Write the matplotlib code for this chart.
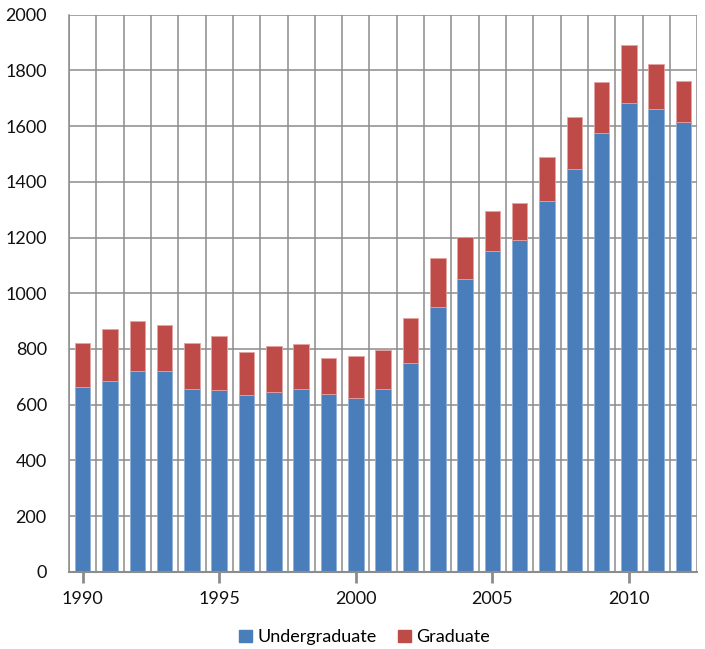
import matplotlib
matplotlib.use("Agg")
import matplotlib.pyplot as plt
import numpy as np
from matplotlib.patches import Patch

years = list(range(1990, 2013))
undergraduate = [664, 684, 721, 719, 655, 654, 633, 645, 655, 637, 623, 657, 748,
                 951, 1050, 1150, 1190, 1330, 1446, 1576, 1682, 1662, 1616]
total = [821, 871, 899, 886, 822, 846, 789, 812, 818, 766, 776, 797, 911,
         1127, 1201, 1295, 1325, 1488, 1632, 1758, 1892, 1824, 1762]
graduate = [t - u for t, u in zip(total, undergraduate)]
yticks = [0, 200, 400, 600, 800, 1000, 1200, 1400, 1600, 1800, 2000]
xlabel_years = [1990, 1995, 2000, 2005, 2010]

plt.rcParams['font.family'] = ['Lato', 'DejaVu Sans']

blue = '#4A7EBB'
red = '#BE4B48'
grid = '#8C8C8C'

fig = plt.figure(figsize=(7.05, 6.49), dpi=100)
ax = fig.add_axes([0.0979, 0.1191, 0.989 - 0.0979, 0.9773 - 0.1191])

x = np.arange(len(years))
w = 0.57
ax.bar(x, undergraduate, width=w, color=blue, edgecolor='#8FB0DA', linewidth=0.6, zorder=3)
ax.bar(x, graduate, width=w, bottom=undergraduate, color=red, edgecolor='#E3A3A1', linewidth=0.6, zorder=3)

ax.set_xlim(-0.5, len(years) - 0.5)
ax.set_ylim(0, 2000)
ax.set_yticks(yticks)
ax.set_yticklabels([str(v) for v in yticks])

# vertical gridlines at category boundaries
for b in np.arange(-0.5, len(years) + 0.5, 1):
    ax.axvline(b, color=grid, linewidth=1.1, zorder=1)
for v in yticks:
    ax.axhline(v, color=grid, linewidth=1.1, zorder=1)

major = [years.index(y) for y in xlabel_years]
ax.set_xticks(major)
ax.set_xticklabels([str(y) for y in xlabel_years])

for s in ax.spines.values():
    s.set_visible(False)
ax.spines['bottom'].set_visible(True)
ax.spines['bottom'].set_color(grid)
ax.spines['bottom'].set_linewidth(1.5)
ax.spines['bottom'].set_zorder(4)
ax.spines['left'].set_visible(True)
ax.spines['left'].set_color(grid)
ax.spines['left'].set_linewidth(1.1)

ax.tick_params(axis='x', length=8, width=2, color=grid, pad=6, labelsize=13, labelcolor='#111111')
ax.tick_params(axis='y', length=0, pad=16, labelsize=13, labelcolor='#111111')

handles = [Patch(facecolor=blue, edgecolor=blue, label='Undergraduate'),
           Patch(facecolor=red, edgecolor=red, label='Graduate')]
fig.legend(handles=handles, loc='center', bbox_to_anchor=(0.517, 0.018), ncol=2,
           frameon=False, fontsize=13, handlelength=0.7, handleheight=0.7,
           handletextpad=0.3, columnspacing=1.2)

fig.savefig('out.png', dpi=100)
